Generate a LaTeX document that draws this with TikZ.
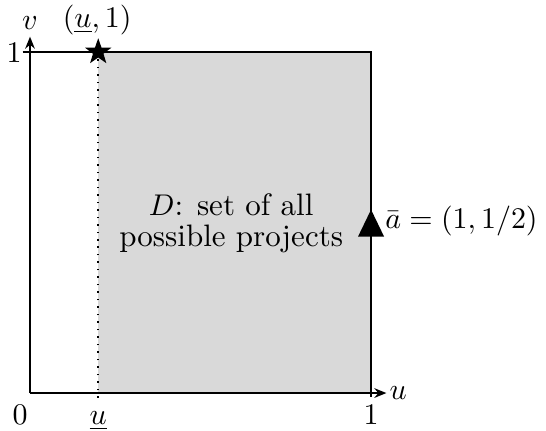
\documentclass[tikz,border=0pt]{standalone}
\usetikzlibrary{arrows.meta,shapes.geometric,calc}
\begin{document}
\begin{tikzpicture}[x=4cm,y=4cm,font=\fontsize{10.35}{12}\selectfont,
  axisline/.style={line width=0.7pt,-{Stealth[length=4pt,width=3.2pt]}},
  boxline/.style={line width=0.7pt},
  lbl/.style={inner sep=0pt},
  starmark/.style={star,star points=5,star point ratio=2.5,fill=black,inner sep=0pt,minimum size=9.2pt}]
\useasboundingbox (-0.088,-0.1085) rectangle (1.513,1.1525);
% named points
\coordinate (O) at (0,0);
\coordinate (ub) at (0.2,0);
\coordinate (ut) at (0.2,1);
\coordinate (X1) at (1,0);
\coordinate (Y1) at (0,1);
\coordinate (C) at (1,1);
\coordinate (abar) at (1,0.5);
\coordinate (xend) at (1.045,0);
\coordinate (yend) at (0,1.045);
% shaded region
\fill[black!15] (ub) rectangle (C);
\draw[dotted,line width=0.5pt] (ub) ++(0,-0.014) -- (ut);
% box
\draw[boxline] ($(Y1)+(-0.022,0)$) -- (C) -- ($(X1)+(0,-0.012)$);
% axes
\draw[axisline] (O) -- (xend);
\draw[axisline] (O) -- (yend);
% marks
\node[starmark] (star) at (ut) {};
\fill (abar) ++(-4.35pt,-4.7pt) -- ++(8.7pt,0) -- ++(-4.35pt,9pt) -- cycle;
% labels
\node[lbl,anchor=west] (ulab) at ($(xend)+(0.008,0)$) {$u$};
\node[lbl] (vlab) at (0,1.085) {$v$};
\node[lbl,anchor=base] (zero) at (-0.029,-0.091) {$0$};
\node[lbl,anchor=base] (ubar) at (0.2,-0.091) {$\underline{u}$};
\node[lbl,anchor=base] (one) at (1,-0.091) {$1$};
\node[lbl,anchor=base east] (oney) at (-0.023,0.968) {$1$};
\node[lbl] (starlab) at (0.197,1.094) {$(\underline{u},1)$};
\node[lbl,anchor=west] (abarlab) at (1.04,0.503) {$\bar{a}=(1,1/2)$};
\node[lbl,align=center,font=\fontsize{10.35}{10.4}\selectfont] (D) at (0.59,0.497) {$D$: set of all\\possible projects};
\end{tikzpicture}
\end{document}
